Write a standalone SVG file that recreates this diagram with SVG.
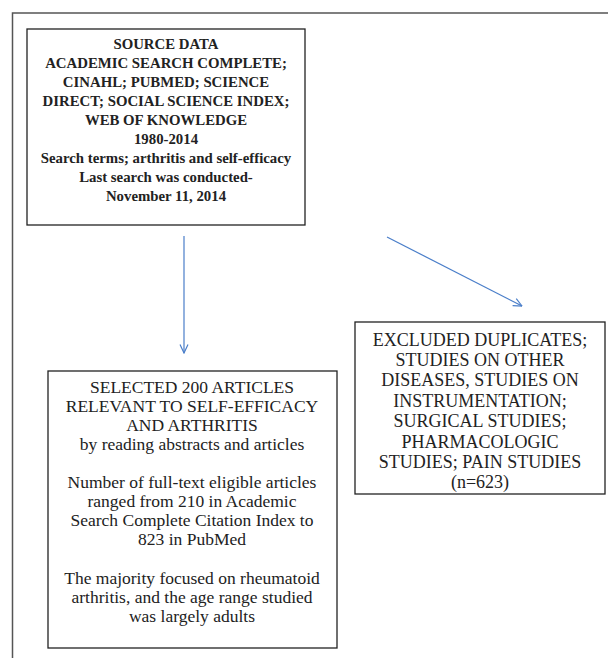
<svg xmlns="http://www.w3.org/2000/svg" width="608" height="658" viewBox="0 0 608 658">
<style>
.box{fill:#fff;stroke:#222;stroke-width:1.3}
.t{font-family:"Liberation Serif","Times New Roman",serif;font-size:17.5px;fill:#222;text-anchor:middle}
.b{font-weight:bold;font-size:14.8px}
.e{font-size:18px}
.c{fill:none;stroke:#4A7EC9;stroke-width:1.2}
</style>
<defs>
<marker id="ah" viewBox="0 0 10 10" refX="9.5" refY="5" markerWidth="10" markerHeight="10" markerUnits="userSpaceOnUse" orient="auto">
<path d="M1,1 L9.5,5 L1,9" fill="none" stroke="#4A7EC9" stroke-width="1.2"/>
</marker>
</defs>
<rect width="608" height="658" fill="#fff"/>
<path d="M12.5,658 V13 H608" fill="none" stroke="#555" stroke-width="1.5"/>
<g id="source">
<rect class="box" x="27" y="29" width="278" height="196"/>
<text class="t b" x="166" y="49">SOURCE DATA</text>
<text class="t b" x="166" y="68">ACADEMIC SEARCH COMPLETE;</text>
<text class="t b" x="166" y="87">CINAHL; PUBMED; SCIENCE</text>
<text class="t b" x="166" y="106">DIRECT; SOCIAL SCIENCE INDEX;</text>
<text class="t b" x="166" y="125">WEB OF KNOWLEDGE</text>
<text class="t b" x="166" y="144">1980-2014</text>
<text class="t b" x="166" y="163">Search terms; arthritis and self-efficacy</text>
<text class="t b" x="166" y="182">Last search was conducted-</text>
<text class="t b" x="166" y="201">November 11, 2014</text>
</g>
<g id="selected">
<rect class="box" x="48" y="371" width="289" height="277"/>
<text class="t" x="192" y="393">SELECTED 200 ARTICLES</text>
<text class="t" x="192" y="412">RELEVANT TO SELF-EFFICACY</text>
<text class="t" x="192" y="431">AND ARTHRITIS</text>
<text class="t" x="192" y="450">by reading abstracts and articles</text>
<text class="t" x="192" y="488">Number of full-text eligible articles</text>
<text class="t" x="192" y="507">ranged from 210 in Academic</text>
<text class="t" x="192" y="526">Search Complete Citation Index to</text>
<text class="t" x="192" y="545">823 in PubMed</text>
<text class="t" x="192" y="584">The majority focused on rheumatoid</text>
<text class="t" x="192" y="603">arthritis, and the age range studied</text>
<text class="t" x="192" y="622">was largely adults</text>
</g>
<g id="excluded">
<rect class="box" x="355" y="322" width="250" height="172"/>
<text class="t e" x="480" y="345.5">EXCLUDED DUPLICATES;</text>
<text class="t e" x="480" y="365.5">STUDIES ON OTHER</text>
<text class="t e" x="480" y="386">DISEASES, STUDIES ON</text>
<text class="t e" x="480" y="406.5">INSTRUMENTATION;</text>
<text class="t e" x="480" y="427">SURGICAL STUDIES;</text>
<text class="t e" x="480" y="447.5">PHARMACOLOGIC</text>
<text class="t e" x="480" y="468">STUDIES; PAIN STUDIES</text>
<text class="t e" x="480" y="488">(n=623)</text>
</g>
<g id="connectors">
<line class="c" x1="184" y1="236" x2="184" y2="353" marker-end="url(#ah)"/>
<line class="c" x1="387" y1="237" x2="522" y2="306" marker-end="url(#ah)"/>
</g>
</svg>
